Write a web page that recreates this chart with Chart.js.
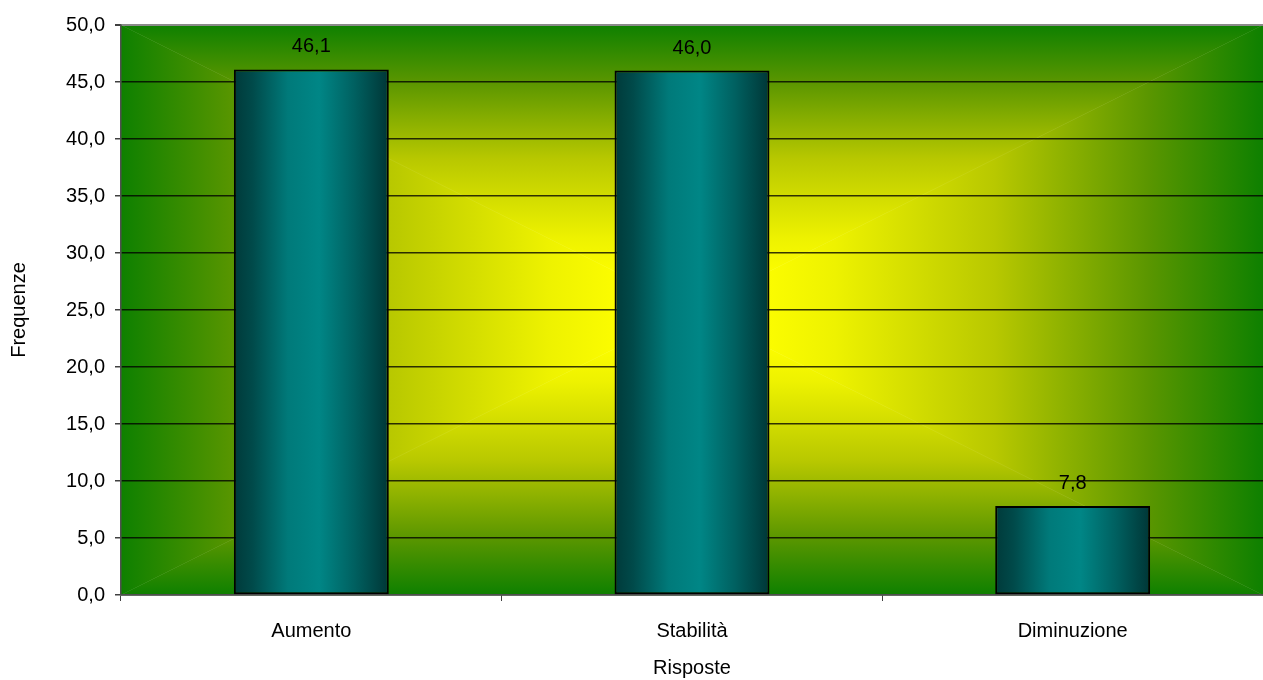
<!DOCTYPE html>
<html>
<head>
<meta charset="utf-8">
<script src="https://cdn.jsdelivr.net/npm/chart.js@4.4.1/dist/chart.umd.min.js"></script>
<style>
  body { margin: 0; background: #fff; }
  #wrap { width: 1263px; height: 680px; position: relative; }
</style>
</head>
<body>
<div id="wrap"><canvas id="chart"></canvas></div>
<script>
// ---------- Data ----------
const categories = ['Aumento', 'Stabilità', 'Diminuzione'];
const frequenze = [46.1, 46.0, 7.8];
const yTicks = [0, 5, 10, 15, 20, 25, 30, 35, 40, 45, 50];

const fmt = v => Number(v).toFixed(1).replace('.', ',');

Chart.defaults.font.family = '"Liberation Sans", Arial, sans-serif';
Chart.defaults.font.size = 20;
Chart.defaults.color = '#000';

// sfondo: gradiente rettangolare dal centro (giallo) ai bordi (verde)
const bgStops = [
    [0, '#0e8000'],
    [0.2, '#5a9600'],
    [0.47, '#b8c800'],
    [0.75, '#eef200'],
    [0.9, '#ffff00'],
    [1, '#ffff00'],
];

const plotBackground = {
    id: 'plotBackground',
    beforeDraw(chart) {
        const { ctx, chartArea: a } = chart;
        const cx = (a.left + a.right) / 2;
        const cy = (a.top + a.bottom) / 2;
        const tris = [
            // [corner1, corner2, gradient bordo -> centro]
            [[a.left, a.top], [a.right, a.top], [0, a.top, 0, cy]],
            [[a.left, a.bottom], [a.right, a.bottom], [0, a.bottom, 0, cy]],
            [[a.left, a.top], [a.left, a.bottom], [a.left, 0, cx, 0]],
            [[a.right, a.top], [a.right, a.bottom], [a.right, 0, cx, 0]],
        ];
        ctx.save();
        tris.forEach(([p1, p2, g]) => {
            const grad = ctx.createLinearGradient(...g);
            bgStops.forEach(([o, c]) => grad.addColorStop(o, c));
            ctx.beginPath();
            ctx.moveTo(cx, cy);
            ctx.lineTo(p1[0], p1[1]);
            ctx.lineTo(p2[0], p2[1]);
            ctx.closePath();
            ctx.fillStyle = grad;
            ctx.fill();
            ctx.strokeStyle = grad;
            ctx.lineWidth = 0.5;
            ctx.stroke();
        });
        ctx.restore();
    },
};

const valueLabels = {
    id: 'valueLabels',
    afterDatasetsDraw(chart) {
        const { ctx } = chart;
        const meta = chart.getDatasetMeta(0);
        ctx.save();
        ctx.font = '20px "Liberation Sans", Arial, sans-serif';
        ctx.fillStyle = '#000';
        ctx.textAlign = 'center';
        ctx.textBaseline = 'alphabetic';
        meta.data.forEach((bar, i) => {
            ctx.fillText(fmt(frequenze[i]), bar.x, bar.y - 17);
        });
        ctx.restore();
    },
};

function barGradient(context) {
    const chart = context.chart;
    const xScale = chart.scales.x;
    if (!xScale || !chart.chartArea) return '#008080';
    const x = xScale.getPixelForValue(context.dataIndex);
    const half = (xScale.width / categories.length) * 0.407 / 2;
    const g = chart.ctx.createLinearGradient(x - half, 0, x + half, 0);
    g.addColorStop(0, '#003a3a');
    g.addColorStop(0.12, '#004a4a');
    g.addColorStop(0.35, '#007a7a');
    g.addColorStop(0.55, '#008686');
    g.addColorStop(0.78, '#006060');
    g.addColorStop(1, '#003636');
    return g;
}

new Chart(document.getElementById('chart'), {
    type: 'bar',
    data: {
        labels: categories,
        datasets: [{
            label: 'Frequenze',
            data: frequenze,
            backgroundColor: barGradient,
            borderColor: '#000',
            borderWidth: 2,
            borderSkipped: false,
            categoryPercentage: 1,
            barPercentage: 0.407,
        }],
    },
    options: {
        responsive: true,
        maintainAspectRatio: false,
        animation: false,
        layout: { padding: { top: 25, right: 0, left: 0, bottom: 0 } },
        plugins: {
            legend: { display: false },
            tooltip: { enabled: false },
        },
        scales: {
            x: {
                afterFit: s => { s.height = 85; },
                grid: {
                    display: true,
                    drawOnChartArea: false,
                    offset: true,
                    tickLength: 6,
                    tickColor: '#404040',
                },
                border: { color: '#505050', width: 1.5 },
                ticks: { padding: 18, color: '#000' },
                title: {
                    display: true,
                    text: 'Risposte',
                    padding: { top: 0, bottom: 0 },
                    color: '#000',
                },
            },
            y: {
                min: 0,
                max: 50,
                afterFit: s => { s.width = 121; },
                afterBuildTicks: s => { s.ticks = yTicks.map(v => ({ value: v })); },
                grid: {
                    color: c => (c.tick && c.tick.value === 50 ? '#8a8a8a' : 'rgba(0,0,0,0.78)'),
                    lineWidth: c => (c.tick && c.tick.value === 50 ? 2 : 1.5),
                    tickLength: 6,
                    tickColor: '#404040',
                },
                border: { color: '#505050', width: 1.5 },
                ticks: {
                    padding: 10,
                    color: '#000',
                    callback: v => fmt(v),
                },
                title: {
                    display: true,
                    text: 'Frequenze',
                    padding: { top: 7, bottom: 0 },
                    color: '#000',
                },
            },
        },
    },
    plugins: [plotBackground, valueLabels],
});
</script>
</body>
</html>
